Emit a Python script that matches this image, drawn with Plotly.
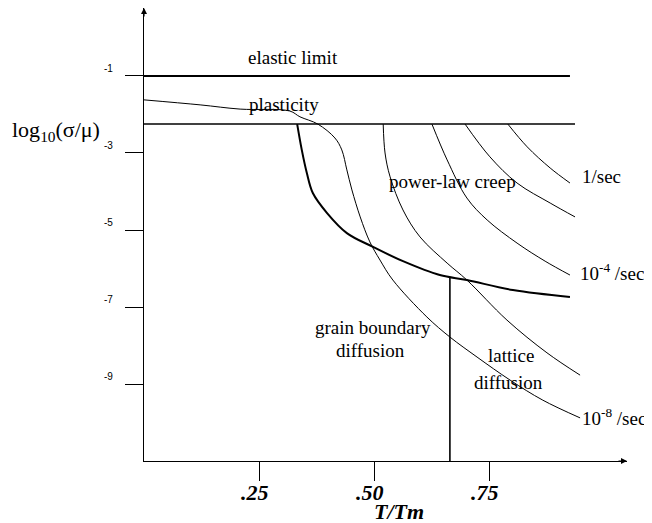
import plotly.graph_objects as go

# ---- data (T/Tm, log10(sigma/mu)) ----
elastic_x = [0.0, 0.926]
elastic_y = [-1.0, -1.0]

plast_line_x = [0.0, 0.937]
plast_line_y = [-2.25, -2.25]

# plasticity / grain-boundary boundary curve (thin), ends at 10^-8 /sec
gb_x = [0.0, 0.122, 0.209, 0.317, 0.339, 0.378, 0.415, 0.430, 0.441, 0.452, 0.470, 0.491,
        0.513, 0.541, 0.615, 0.665, 0.724, 0.796, 0.867, 0.948]
gb_y = [-1.62, -1.75, -1.86, -1.91, -2.06, -2.25, -2.61, -2.92, -3.44, -3.96, -4.66, -5.31,
        -5.78, -6.30, -7.26, -7.78, -8.30, -8.90, -9.42, -9.88]

# thick boundary: power-law creep / diffusion
thick_x = [0.333, 0.343, 0.354, 0.367, 0.398, 0.441, 0.498, 0.563, 0.643, 0.702, 0.802, 0.926]
thick_y = [-2.25, -2.92, -3.52, -4.04, -4.56, -5.08, -5.44, -5.81, -6.17, -6.30, -6.56, -6.74]

# strain-rate contours
a_x = [0.520, 0.524, 0.535, 0.563, 0.600, 0.659, 0.702, 0.789, 0.876, 0.948]
a_y = [-2.25, -3.00, -3.62, -4.48, -5.18, -5.86, -6.30, -7.34, -8.19, -8.77]

b_x = [0.626, 0.659, 0.702, 0.746, 0.811, 0.872, 0.926]
b_y = [-2.25, -3.18, -4.17, -4.74, -5.34, -5.81, -6.17]

c_x = [0.698, 0.752, 0.811, 0.883, 0.937]
c_y = [-2.25, -3.10, -3.78, -4.30, -4.66]

d_x = [0.791, 0.833, 0.883, 0.926]
d_y = [-2.25, -2.84, -3.39, -3.78]

# lattice / grain-boundary diffusion divider
vert_x = [0.665, 0.665]
vert_y = [-11.0, -6.23]

x_ticks = [0.25, 0.50, 0.75]
x_tick_text = [".25", ".50", ".75"]
y_ticks = [-1, -3, -5, -7, -9]
y_tick_text = ["-1", "-3", "-5", "-7", "-9"]

# region / contour labels: (text, x, y, anchor)
labels = [
    ("elastic limit", 0.324, -0.51, "center"),
    ("plasticity", 0.304, -1.73, "center"),
    ("power-law creep", 0.670, -3.75, "center"),
    ("1/sec", 0.948, -3.62, "left"),
    ("10<sup>-4</sup> /sec", 0.943, -6.09, "left"),
    ("grain boundary", 0.498, -7.52, "center"),
    ("diffusion", 0.493, -8.12, "center"),
    ("lattice", 0.798, -8.25, "center"),
    ("diffusion", 0.793, -8.97, "center"),
    ("10<sup>-8</sup> /sec", 0.947, -9.86, "left"),
]

X_RANGE = [0.0, 1.05]
Y_RANGE = [-11.0, 0.766]

def px(x):  # data x -> paper fraction (for labels drawn outside the axes)
    return (x - X_RANGE[0]) / (X_RANGE[1] - X_RANGE[0])

def py(y):
    return (y - Y_RANGE[0]) / (Y_RANGE[1] - Y_RANGE[0])

SERIF = "Liberation Serif"
fig = go.Figure()

def add_line(x, y, w, shape="linear"):
    fig.add_trace(go.Scatter(x=x, y=y, mode="lines", line=dict(color="black", width=w, shape=shape),
                             hoverinfo="skip", showlegend=False))

add_line(elastic_x, elastic_y, 2.2)
add_line(plast_line_x, plast_line_y, 1.5)
add_line(gb_x, gb_y, 1.0, "spline")
add_line(thick_x, thick_y, 2.0, "spline")
add_line(a_x, a_y, 1.0, "spline")
add_line(b_x, b_y, 1.0, "spline")
add_line(c_x, c_y, 1.0, "spline")
add_line(d_x, d_y, 1.0, "spline")
add_line(vert_x, vert_y, 1.6)

def paper_text(text, x, y, size, family, **kw):
    return dict(text=text, x=px(x), y=py(y), xref="paper", yref="paper", xanchor="center",
                yanchor="middle", showarrow=False, font=dict(family=family, size=size, color="black"), **kw)

ann = []
for t, x, y, anc in labels:
    ann.append(dict(text=t, x=x, y=y, xref="x", yref="y", showarrow=False, xanchor=anc,
                    yanchor="middle", font=dict(family=SERIF, size=19, color="black")))
for v, t in zip(x_ticks, x_tick_text):
    ann.append(paper_text("<b><i>%s</i></b>" % t, v, -11.81, 22, SERIF, xshift=-4))
for v, t in zip(y_ticks, y_tick_text):
    ann.append(paper_text(t, -0.078, v, 10, "Liberation Sans", yshift=7))
ann.append(paper_text("<b><i>T/Tm</i></b>", 0.554, -12.30, 22, SERIF))
ann.append(paper_text("log<sub>10</sub>(σ/μ)", -0.192, -2.43, 22, SERIF))
# axis arrowheads
ann.append(dict(text="", x=X_RANGE[1], y=Y_RANGE[0], xref="x", yref="y", ax=-10, ay=0, showarrow=True,
                arrowhead=2, arrowsize=1, arrowwidth=1.2, arrowcolor="black"))
ann.append(dict(text="", x=X_RANGE[0], y=Y_RANGE[1], xref="x", yref="y", ax=0, ay=10, showarrow=True,
                arrowhead=2, arrowsize=1, arrowwidth=1.2, arrowcolor="black"))

fig.update_layout(
    width=652, height=523, autosize=False,
    margin=dict(l=136, r=33, t=0, b=70),
    paper_bgcolor="white", plot_bgcolor="white",
    showlegend=False,
    annotations=ann,
    xaxis=dict(range=X_RANGE, showgrid=False, zeroline=False, showline=True, linecolor="black",
               linewidth=1.3, ticks="outside", ticklen=19, tickwidth=1.3, tickcolor="black",
               tickvals=x_ticks, showticklabels=False),
    yaxis=dict(range=Y_RANGE, showgrid=False, zeroline=False, showline=True, linecolor="black",
               linewidth=1.3, ticks="outside", ticklen=18, tickwidth=1.3, tickcolor="black",
               tickvals=y_ticks, showticklabels=False),
)

fig.write_html("out.html")
